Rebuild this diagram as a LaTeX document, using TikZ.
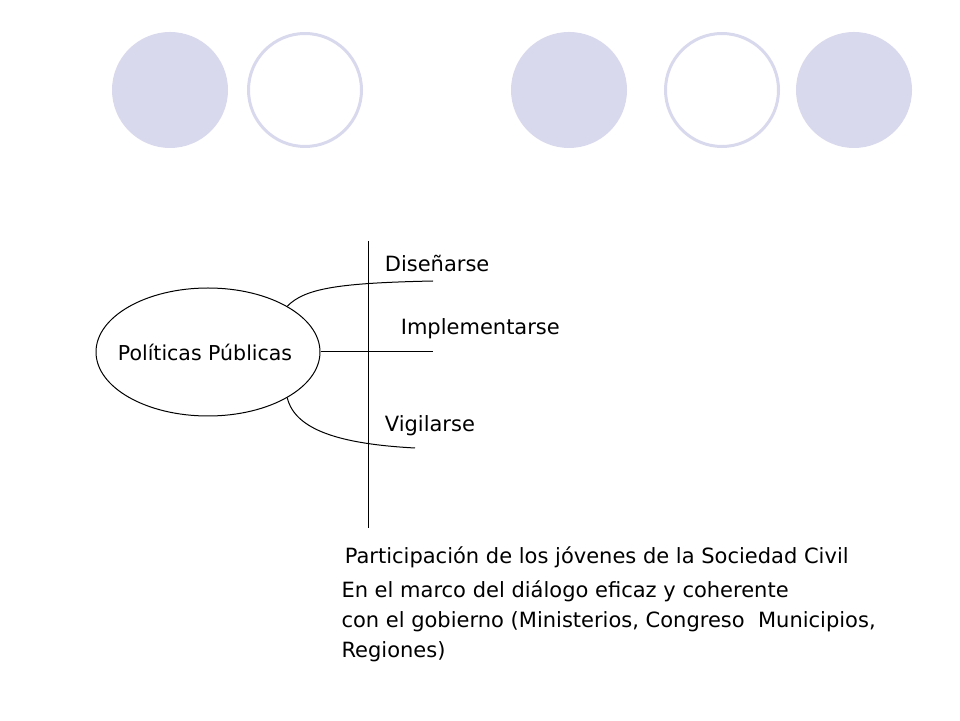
\documentclass[tikz,border=0pt]{standalone}
\usepackage{fontspec}
\setmainfont{DejaVu Sans}
\usetikzlibrary{shapes.geometric}
\definecolor{lavanda}{HTML}{D9D9ED}
\tikzset{
	full/.style={circle,fill=lavanda,minimum size=116pt,inner sep=0pt},
	hollow/.style={circle,draw=lavanda,line width=3pt,minimum size=113pt,inner sep=0pt},
	palabra/.style={anchor=base west,font=\fontsize{21}{30}\selectfont}
}
\begin{document}
\begin{tikzpicture}[x=1pt,y=1pt,line width=1pt]
	\useasboundingbox (0,0) rectangle (960,720);
	\node[full] (c1) at (170,630) {};
	\node[hollow] (c2) at (305,630) {};
	\node[full] (c3) at (569,630) {};
	\node[hollow] (c4) at (722,630) {};
	\node[full] (c5) at (854,630) {};
	\node[ellipse,draw,minimum width=224pt,minimum height=128pt,inner xsep=-10pt,inner ysep=0pt,font=\fontsize{20.5}{24}\selectfont] (pp) at (208,368) {\hspace*{-6pt}Políticas Públicas};
	\coordinate (vtop) at (368,479);
	\coordinate (vbot) at (368,192);
	\coordinate (dis) at (433,439);
	\coordinate (imp) at (433,368);
	\coordinate (vig) at (415,272);
	\draw[-] (vtop) -- (vbot);
	\draw[-] (pp.30) .. controls (305,432) and (340,437) .. (dis);
	\draw[-] (pp.east) -- (imp);
	\draw[-] (pp.-30) .. controls (295,290) and (340,276) .. (vig);
	\node[palabra] (tdis) at (381,448) {Diseñarse};
	\node[palabra] (timp) at (397,385) {Implementarse};
	\node[palabra] (tvig) at (381,288) {Vigilarse};
	\node[palabra] (part) at (341,157) {Participación de los jóvenes de la Sociedad Civil};
	\node[palabra,align=left,anchor=north west,inner sep=0pt] (marco) at (341,140) {En el marco del diálogo eficaz y coherente\\con el gobierno (Ministerios, Congreso\ \ Municipios,\\Regiones)};
\end{tikzpicture}
\end{document}
